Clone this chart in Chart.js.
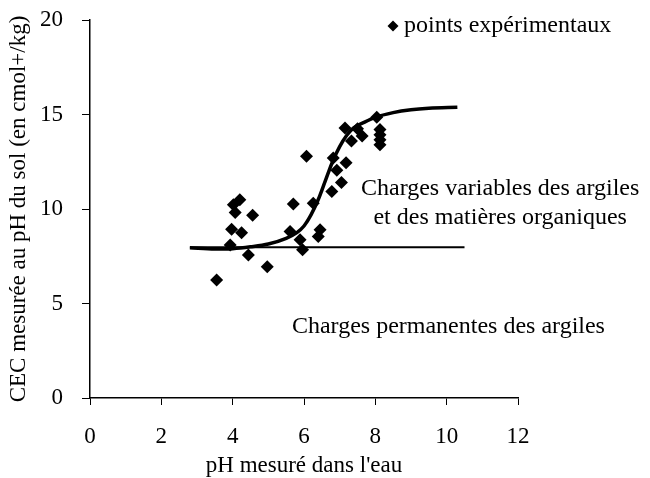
<!DOCTYPE html>
<html><head><meta charset="utf-8">
<script src="https://cdn.jsdelivr.net/npm/chart.js@4/dist/chart.umd.min.js"></script>
<style>html,body{margin:0;padding:0;background:#fff;}</style>
</head><body>
<canvas id="c" width="650" height="478"></canvas>
<script>
// Experimental points
const phMeasured = [3.55, 3.93, 3.97, 4.02, 4.07, 4.20, 4.25, 4.44, 4.56, 4.97,
  5.61, 5.70, 5.89, 5.96, 6.07, 6.26, 6.40, 6.45, 6.78, 6.82,
  6.92, 7.05, 7.18, 7.15, 7.33, 7.50, 7.63, 8.04, 8.13, 8.13, 8.13, 8.13];
const cecMeasured = [6.24, 8.10, 8.93, 10.22, 9.81, 10.49, 8.75, 7.57, 9.67, 6.95,
  8.81, 10.27, 8.37, 7.84, 12.79, 10.31, 8.54, 8.90, 10.93, 12.70,
  12.05, 11.40, 12.45, 14.29, 13.60, 14.25, 13.86, 14.85, 14.20, 13.93, 13.67, 13.40];
// Fitted curve
const curvePh = [2.8, 3.5, 4.0, 4.5, 5.0, 5.5, 5.8, 6.0, 6.2, 6.4, 6.6, 6.8, 7.0, 7.2, 7.4, 7.7, 8.0, 8.5, 9.0, 9.5, 10.3];
const curveCec = [7.95, 7.88, 7.90, 8.00, 8.15, 8.45, 8.75, 9.10, 9.70, 10.50, 11.50, 12.50, 13.30, 13.90, 14.30, 14.60, 14.85, 15.10, 15.25, 15.33, 15.38];
// Permanent charges line
const permPh = [2.8, 10.5];
const permCec = [7.98, 7.98];
// Axes
const xTickValues = [0, 2, 4, 6, 8, 10, 12];
const yTickValues = [0, 5, 10, 15, 20];
const xTitle = "pH mesuré dans l'eau";
const yTitle = "CEC mesurée au pH du sol (en cmol+/kg)";
const legendLabel = "points expérimentaux";
const noteVariable = ["Charges variables des argiles", "et des matières organiques"];
const notePermanent = "Charges permanentes des argiles";

const FONT = "'Liberation Serif', 'Times New Roman', serif";

const notesPlugin = {
  id: 'notes',
  afterDraw(chart) {
    const ctx = chart.ctx;
    const xs = chart.scales.x, ys = chart.scales.y;
    ctx.save();
    ctx.fillStyle = '#000';
    ctx.font = '24px ' + FONT;
    ctx.textBaseline = 'middle';
    // legend
    const lx = 393, ly = 26, r = 5.5;
    ctx.beginPath();
    ctx.moveTo(lx, ly - r); ctx.lineTo(lx + r, ly); ctx.lineTo(lx, ly + r); ctx.lineTo(lx - r, ly); ctx.closePath();
    ctx.fill();
    ctx.textAlign = 'left';
    ctx.fillText(legendLabel, 404, ly);
    // annotations
    ctx.textAlign = 'center';
    ctx.fillText(noteVariable[0], xs.getPixelForValue(11.5), ys.getPixelForValue(11.1));
    ctx.fillText(noteVariable[1], xs.getPixelForValue(11.5), ys.getPixelForValue(9.55));
    ctx.fillText(notePermanent, xs.getPixelForValue(10.05), ys.getPixelForValue(3.75));
    ctx.restore();
  }
};

const zip = (a, b) => a.map((v, i) => ({x: v, y: b[i]}));

new Chart(document.getElementById('c'), {
  type: 'scatter',
  data: {
    datasets: [
      { label: legendLabel, data: zip(phMeasured, cecMeasured), pointStyle: 'rectRot', pointRadius: 6.5,
        backgroundColor: '#000', borderColor: '#000', borderWidth: 0, order: 0 },
      { label: 'curve', data: zip(curvePh, curveCec), showLine: true, pointRadius: 0, borderColor: '#000',
        borderWidth: 3.5, cubicInterpolationMode: 'monotone', order: 1 },
      { label: 'perm', data: zip(permPh, permCec), showLine: true, pointRadius: 0, borderColor: '#000',
        borderWidth: 2, order: 2 }
    ]
  },
  options: {
    responsive: false,
    animation: false,
    layout: { padding: { top: 20, right: 132, left: 0, bottom: 0 } },
    plugins: { legend: { display: false }, tooltip: { enabled: false } },
    scales: {
      x: {
        type: 'linear', min: 0, max: 12,
        afterBuildTicks: s => { s.ticks = xTickValues.map(v => ({value: v})); },
        afterFit: s => { s.height = 80; s.paddingLeft = 0; s.paddingRight = 0; },
        grid: { drawOnChartArea: false, drawTicks: true, tickLength: 7, color: '#000', lineWidth: 1 },
        border: { display: true, color: '#000', width: 1.5 },
        ticks: { color: '#000', font: { family: FONT, size: 23 }, padding: 18, maxRotation: 0 },
        title: { display: true, text: xTitle, color: '#000', font: { family: FONT, size: 23 }, padding: { top: 0, bottom: -2 } }
      },
      y: {
        type: 'linear', min: 0, max: 20,
        afterBuildTicks: s => { s.ticks = yTickValues.map(v => ({value: v})); },
        afterFit: s => { s.width = 90; s.paddingTop = 0; s.paddingBottom = 0; },
        grid: { drawOnChartArea: false, drawTicks: true, tickLength: 8, color: '#000', lineWidth: 1 },
        border: { display: true, color: '#000', width: 1.5 },
        ticks: { color: '#000', font: { family: FONT, size: 23 }, padding: 19 },
        title: { display: true, text: yTitle, color: '#000', font: { family: FONT, size: 23 }, padding: { top: 5, bottom: 0 } }
      }
    }
  },
  plugins: [notesPlugin]
});
</script>
</body></html>
